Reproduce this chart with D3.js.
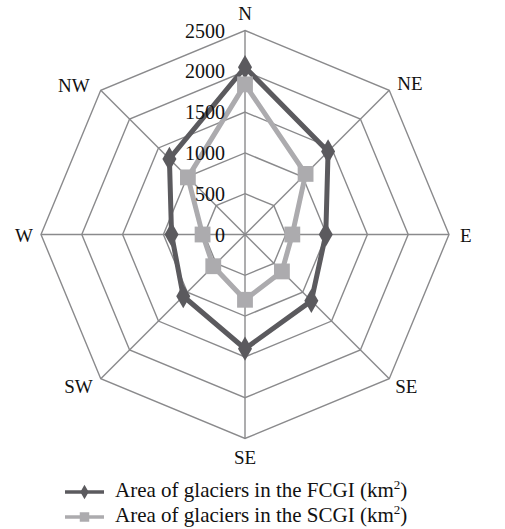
<!DOCTYPE html>
<html><head><meta charset="utf-8">
<script src="https://cdn.jsdelivr.net/npm/d3@7"></script>
<style>body{margin:0;background:#fff}svg{display:block}</style>
</head><body>
<svg id="c" width="505" height="529"></svg>
<script>
const directions = ["N","NE","E","SE","SE","SW","W","NW"];
const fcgi = [2050, 1440, 990, 1150, 1400, 1070, 900, 1310];
const scgi = [1840, 1050, 580, 640, 800, 550, 520, 990];
const ticks = [0, 500, 1000, 1500, 2000, 2500];
const seriesNames = ["Area of glaciers in the FCGI (km", "Area of glaciers in the SCGI (km"];

const svg = d3.select("#c");
const cx = 245, cy = 234.5, R = 204;
const r = d3.scaleLinear().domain([0, 2500]).range([0, R]);
const ang = d3.scaleLinear().domain([0, directions.length]).range([0, 2*Math.PI]);
const pt = (i, v) => [cx + r(v)*Math.sin(ang(i)), cy - r(v)*Math.cos(ang(i))];
const font = "'Liberation Serif','Times New Roman',serif";
const grid = "#8a8a8c";

const g = svg.append("g");
ticks.slice(1).forEach(t => {
  g.append("path")
    .attr("d", d3.line()(directions.map((d,i)=>pt(i,t))) + "Z")
    .attr("fill","none").attr("stroke",grid).attr("stroke-width",1.4);
});
directions.forEach((d,i)=>{
  const [x,y] = pt(i, 2500);
  g.append("line").attr("x1",cx).attr("y1",cy).attr("x2",x).attr("y2",y)
    .attr("stroke",grid).attr("stroke-width",1.4);
});

const dark = "#5b5a5e", light = "#acabae";
function drawSeries(vals, color, shape, size){
  const pts = vals.map((v,i)=>pt(i,v));
  svg.append("path").attr("d", d3.line()(pts)+"Z")
    .attr("fill","none").attr("stroke",color).attr("stroke-width",5).attr("stroke-linejoin","round");
  svg.selectAll(null).data(pts).enter().append("path")
    .attr("transform", p=>`translate(${p[0]},${p[1]})`)
    .attr("d", d3.symbol().type(shape).size(size))
    .attr("fill",color);
}
drawSeries(fcgi, dark, d3.symbolDiamond, 170);
drawSeries(scgi, light, d3.symbolSquare, 250);

svg.selectAll(null).data(ticks).enter().append("text")
  .attr("x", cx - 20).attr("y", t => cy - r(t) + 7)
  .attr("text-anchor","end").attr("font-family",font).attr("font-size",20)
  .attr("fill","#111").text(t=>t);

const offs = [[0,-11,"middle"],[8,0,"start"],[11,7,"start"],[6,14,"start"],[0,25,"middle"],[-8,14,"end"],[-8,7,"end"],[-11,2,"end"]];
directions.forEach((d,i)=>{
  const [x,y] = pt(i,2500);
  svg.append("text").attr("x", x+offs[i][0]).attr("y", y+offs[i][1])
    .attr("text-anchor", offs[i][2]).attr("font-family",font).attr("font-size",19)
    .attr("fill","#111").text(d);
});

const leg = svg.append("g");
const legY = [492, 517];
[[dark, d3.symbolDiamond, 60],[light, d3.symbolSquare, 90]].forEach((s,k)=>{
  leg.append("line").attr("x1",65).attr("x2",104).attr("y1",legY[k]).attr("y2",legY[k])
    .attr("stroke",s[0]).attr("stroke-width",3.5);
  leg.append("path").attr("transform",`translate(84.5,${legY[k]})`)
    .attr("d", d3.symbol().type(s[1]).size(s[2])).attr("fill",s[0]);
  const t = leg.append("text").attr("x",115).attr("y",legY[k]+5)
    .attr("font-family",font).attr("font-size",21).attr("fill","#111");
  t.append("tspan").text(seriesNames[k]);
  t.append("tspan").attr("font-size",13).attr("dy",-8).text("2");
  t.append("tspan").attr("dy",8).text(")");
});
</script>
</body></html>
